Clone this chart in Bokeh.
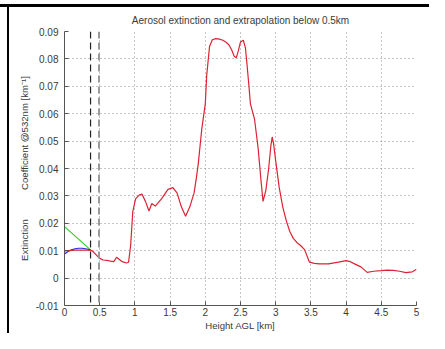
from bokeh.plotting import figure
from bokeh.models import Range1d, FixedTicker, Span
from bokeh.embed import file_html
from bokeh.resources import INLINE

# ---- data ----
red_x = [0.0, 0.05, 0.1, 0.15, 0.2, 0.25, 0.3, 0.37, 0.40, 0.45, 0.50, 0.55, 0.60, 0.65, 0.70,
         0.74, 0.78, 0.82, 0.88, 0.91, 0.94, 0.97, 1.01, 1.06, 1.10, 1.15, 1.20, 1.24, 1.29,
         1.38, 1.47, 1.54, 1.60, 1.66, 1.72, 1.78, 1.84, 1.87, 1.90, 1.95, 2.00, 2.02, 2.06,
         2.10, 2.15, 2.20, 2.25, 2.30, 2.34, 2.38, 2.41, 2.44, 2.47, 2.50, 2.54, 2.57, 2.59,
         2.62, 2.64, 2.70, 2.75, 2.79, 2.82, 2.86, 2.90, 2.93, 2.95, 2.97, 3.00, 3.05, 3.10,
         3.15, 3.20, 3.25, 3.30, 3.35, 3.41, 3.48, 3.55, 3.62, 3.75, 3.89, 4.00, 4.06, 4.12,
         4.21, 4.30, 4.39, 4.50, 4.58, 4.67, 4.76, 4.85, 4.94, 5.00]
red_y = [0.0099, 0.0100, 0.0101, 0.0102, 0.0102, 0.0102, 0.0102, 0.0102, 0.0098, 0.0085, 0.0072,
         0.0066, 0.0065, 0.0062, 0.0060, 0.0076, 0.0068, 0.0060, 0.0055, 0.0058, 0.0120, 0.0243,
         0.0289, 0.0303, 0.0307, 0.0280, 0.0245, 0.0272, 0.0263, 0.0290, 0.0324, 0.0330, 0.0310,
         0.0260, 0.0226, 0.0260, 0.0310, 0.0360, 0.0417, 0.0544, 0.0637, 0.0740, 0.0845, 0.0870,
         0.0874, 0.0872, 0.0868, 0.0860, 0.0850, 0.0830, 0.0810, 0.0804, 0.0830, 0.0862, 0.0868,
         0.0840, 0.0787, 0.0700, 0.0637, 0.0579, 0.0475, 0.0360, 0.0280, 0.0320, 0.0400, 0.0480,
         0.0515, 0.0490, 0.0428, 0.0330, 0.0260, 0.0210, 0.0170, 0.0145, 0.0130, 0.0120, 0.0104,
         0.0058, 0.0054, 0.0052, 0.0052, 0.0058, 0.0064, 0.0060, 0.0052, 0.0041, 0.0021, 0.0025,
         0.0027, 0.0029, 0.0028, 0.0025, 0.0020, 0.0023, 0.0032]

blue_x = [0.0, 0.05, 0.1, 0.15, 0.2, 0.25, 0.3, 0.37]
blue_y = [0.0088, 0.0097, 0.0103, 0.0107, 0.0109, 0.0109, 0.0107, 0.0103]

green_x = [0.0, 0.37]
green_y = [0.0188, 0.0103]

cut_black = 0.37
cut_gray = 0.49

x_ticks = [0, 0.5, 1, 1.5, 2, 2.5, 3, 3.5, 4, 4.5, 5]
x_labels = ["0", "0.5", "1", "1.5", "2", "2.5", "3", "3.5", "4", "4.5", "5"]
y_ticks = [-0.01, 0, 0.01, 0.02, 0.03, 0.04, 0.05, 0.06, 0.07, 0.08, 0.09]
y_labels = ["-0.01", "0", "0.01", "0.02", "0.03", "0.04", "0.05", "0.06", "0.07", "0.08", "0.09"]

FONT = "Liberation Sans"
TXT = "#3a3a3a"
W, H = 429, 333

p = figure(width=W, height=H, output_backend="svg", toolbar_location=None,
           x_range=Range1d(0, 5), y_range=Range1d(-0.01, 0.09),
           title="Aerosol extinction and extrapolation below 0.5km",
           min_border_left=64, min_border_right=13, min_border_top=31, min_border_bottom=28)

# black frame strokes of the original image (top and left), drawn behind a transparent border
p.styles = {
    "background": ("linear-gradient(#000,#000) 0px 4px / 100% 3px no-repeat, "
                   "linear-gradient(#000,#000) 7px 4px / 2px 100% no-repeat, white"),
}
p.border_fill_color = None
p.background_fill_color = "white"
p.outline_line_color = None

p.title.align = "center"
p.title.text_font = FONT
p.title.text_font_size = "10px"
p.title.text_font_style = "normal"
p.title.text_color = TXT
p.title.offset = 0
p.title.standoff = 12

for ax in (p.xaxis[0], p.yaxis[0]):
    ax.axis_line_color = "#555555"
    ax.major_tick_line_color = "#555555"
    ax.major_tick_in = 4
    ax.major_tick_out = 0
    ax.minor_tick_line_color = None
    ax.major_label_text_font = FONT
    ax.major_label_text_font_size = "10px"
    ax.major_label_text_color = TXT
    ax.axis_label_text_font = FONT
    ax.axis_label_text_font_size = "9.6px"
    ax.axis_label_text_font_style = "normal"
    ax.axis_label_text_color = TXT

p.xaxis.ticker = FixedTicker(ticks=x_ticks)
p.xaxis.major_label_overrides = dict(zip(x_ticks, x_labels))
p.yaxis.ticker = FixedTicker(ticks=y_ticks)
p.yaxis.major_label_overrides = dict(zip(y_ticks, y_labels))
p.xaxis.major_label_standoff = 2
p.yaxis.major_label_standoff = 6
p.xaxis.axis_label = "Height AGL [km]"
p.xaxis.axis_label_standoff = 1
p.yaxis.axis_label = "Extinction" + "\u00a0" * 11 + "Coefficient @532nm [km\u207b\u00b9]"
p.yaxis.axis_label_standoff = 3

for g in (p.xgrid[0], p.ygrid[0]):
    g.grid_line_color = "#8a8a8a"
    g.grid_line_dash = "1 3"
    g.grid_line_width = 1

p.add_layout(Span(location=cut_black, dimension="height", line_color="#222222",
                  line_dash="7 4", line_width=1.2))
p.add_layout(Span(location=cut_gray, dimension="height", line_color="#9a9a9a",
                  line_dash="7 4", line_width=2))

p.line(green_x, green_y, line_color="#33cc33", line_width=1.2)
p.line(blue_x, blue_y, line_color="#2a2ae0", line_width=1.2)
p.line(red_x, red_y, line_color="#dd2233", line_width=1.2)

open("out.html", "w").write(file_html(p, INLINE))
